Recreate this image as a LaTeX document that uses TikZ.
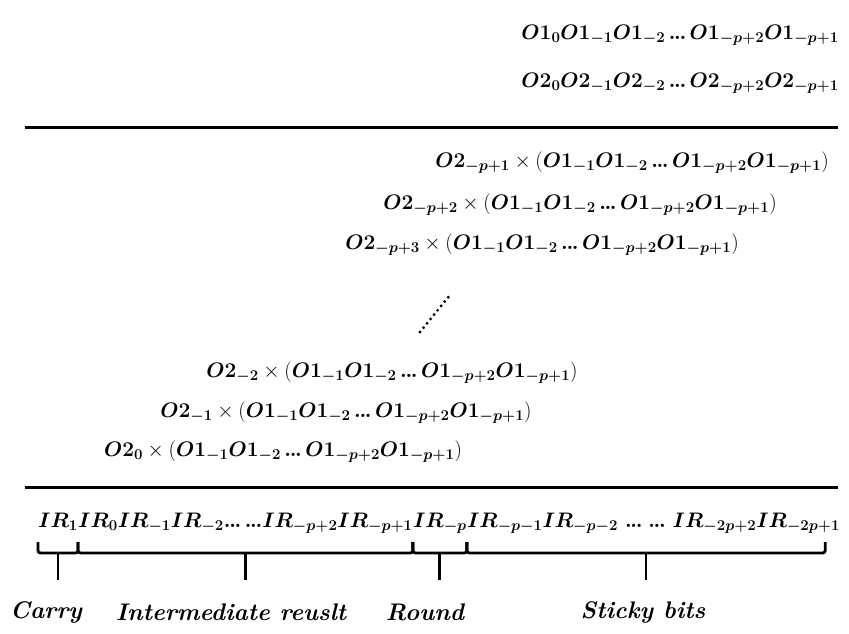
\RequirePackage{fix-cm}
\documentclass[tikz,border=0pt]{standalone}
\usepackage{amsmath}
\usepackage{bm}
\usetikzlibrary{calc}
% larger sub-/superscripts for the formula size
\DeclareMathSizes{21}{21}{15}{11}
\tikzset{
  eq/.style={inner sep=0pt, font=\fontsize{21}{24}\selectfont},
  lbl/.style={inner sep=0pt, font=\fontsize{24}{28}\selectfont\bfseries\itshape},
  rule/.style={line width=3pt},
  brk/.style={line width=2.8pt, rounded corners=2.5pt},
  stem/.style={line width=2.8pt},
}
% tight three-dot ellipsis
\newcommand{\eld}{\mathinner{.\mkern-1mu.\mkern-1mu.}}
\newcommand{\opa}{\bm{O1_{-1}O1_{-2}\eld O1_{-p+2}O1_{-p+1}}}
\begin{document}
\begin{tikzpicture}[x=1pt,y=-1pt]
  \useasboundingbox (0,0) rectangle (849,633);
  % operands
  \node[eq, anchor=east] (opA) at (839,35) {$\bm{O1_0O1_{-1}O1_{-2}\eld O1_{-p+2}O1_{-p+1}}$};
  \node[eq, anchor=east] (opB) at (839,83) {$\bm{O2_0O2_{-1}O2_{-2}\eld O2_{-p+2}O2_{-p+1}}$};
  \draw[rule] (25,127) -- (838,127);
  % partial products
  \node[eq] (pp1) at (632,163) {$\bm{O2_{-p+1}}\times(\opa)$};
  \node[eq] (pp2) at (580,205) {$\bm{O2_{-p+2}}\times(\opa)$};
  \node[eq] (pp3) at (542,245) {$\bm{O2_{-p+3}}\times(\opa)$};
  \coordinate (dA) at (420,332);
  \coordinate (dB) at (450,295);
  \draw[line width=3.2pt, line cap=round, dash pattern=on 0pt off 5.6pt] (dA) -- (dB);
  \node[eq] (pp4) at (392,373) {$\bm{O2_{-2}}\times(\opa)$};
  \node[eq] (pp5) at (346,413) {$\bm{O2_{-1}}\times(\opa)$};
  \node[eq] (pp6) at (283,452) {$\bm{O2_{0}}\times(\opa)$};
  \draw[rule] (25,487) -- (838,487);
  % intermediate result, split into its fields
  \node[eq, anchor=base west] (ir1) at (38,527) {$\bm{IR_1}$};
  \node[eq, anchor=base west] (ir2) at (ir1.base east) {$\bm{IR_0IR_{-1}IR_{-2}\mkern-3mu\eld\eld\mkern-3mu IR_{-p+2}IR_{-p+1}}$};
  \node[eq, anchor=base west] (ir3) at (ir2.base east) {$\bm{IR_{-p}}$};
  \node[eq, anchor=base west] (ir4) at (ir3.base east) {$\bm{IR_{-p-1}IR_{-p-2}\mkern3mu\eld\mkern2mu\eld\mkern3mu IR_{-2p+2}IR_{-2p+1}}$};
  % field brackets
  \coordinate (top) at (0,542);
  \coordinate (bar) at (0,553);
  \coordinate (foot) at (0,580);
  \coordinate (s1) at (ir1.west);
  \coordinate (s2) at (ir2.west);
  \coordinate (s3) at (ir3.west);
  \coordinate (s4) at (ir4.west);
  \coordinate (s5) at ($(ir4.east)+(-15,0)$);
  \foreach \a/\b/\n in {s1/s2/c, s2/s3/i, s3/s4/r, s4/s5/s}{
    \coordinate (\n M) at ($(\a |- bar)!0.5!(\b |- bar)$);
    \draw[brk] (\a |- top) -- (\a |- bar) -- (\b |- bar) -- (\b |- top);
    \draw[stem] (\n M) -- (\n M |- foot);
  }
  \node[lbl] (carry) at (46,612) {Carry};
  \node[lbl] (inter) at (231,612) {Intermediate reuslt};
  \node[lbl] (round) at (425,612) {Round};
  \node[lbl] (sticky) at (643,612) {Sticky bits};
\end{tikzpicture}
\end{document}
